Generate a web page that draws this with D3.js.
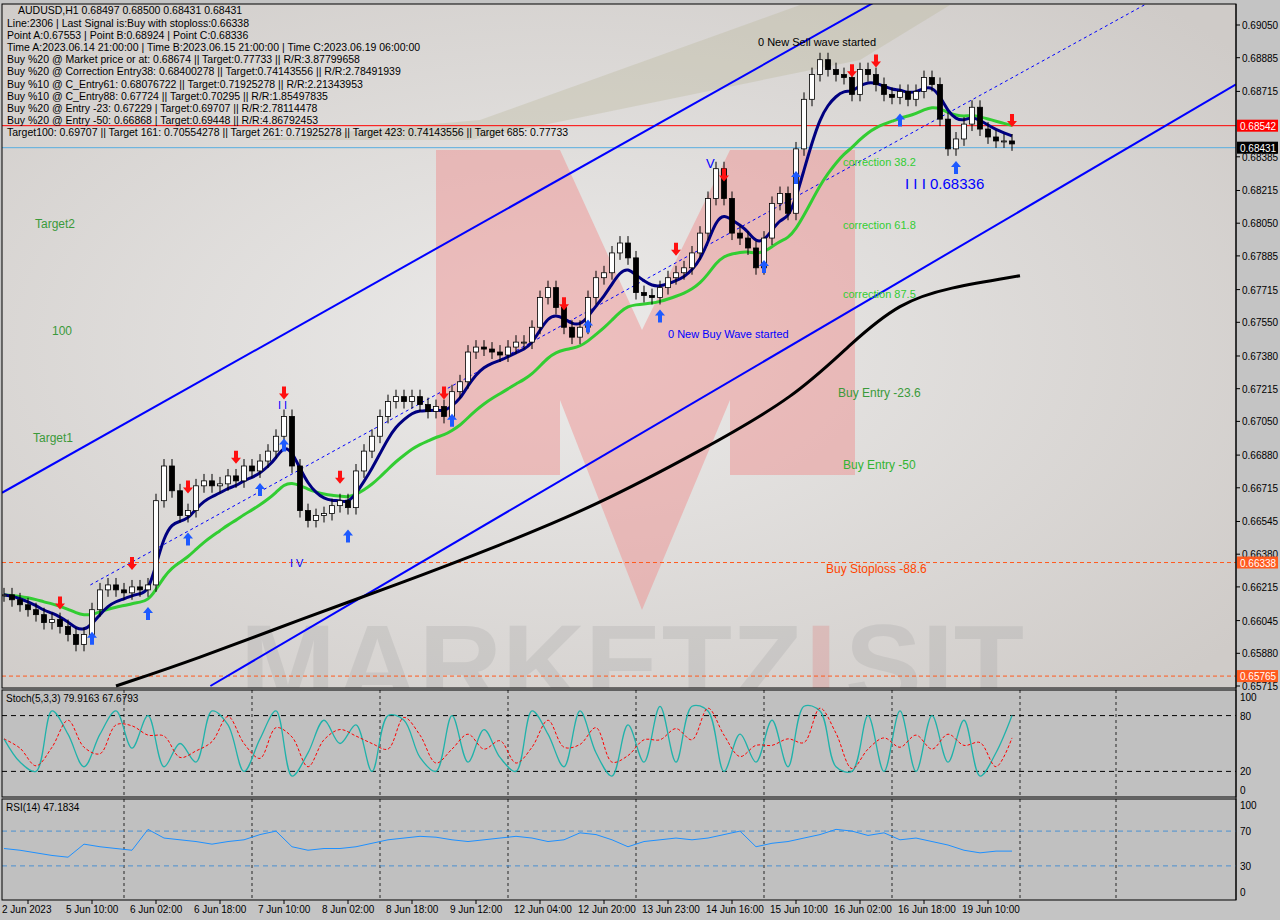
<!DOCTYPE html>
<html><head><meta charset="utf-8">
<script src="https://cdn.jsdelivr.net/npm/d3@7"></script>
<style>body{margin:0;background:#c4c4c4}svg{display:block}text{font-family:"Liberation Sans",Arial,sans-serif}</style>
</head><body><svg width="1280" height="920"></svg>
<script>
// closes, one per 8px column (roughly two H1 bars)
var closes = [.66175,.66150,.66125,.66100,.66075,.66035,.66050,.66015,.65975,.65925,.65975,.66100,.66200,.66225,.66200,.66185,.66215,.66200,.66225,.66650,.66825,.66700,.66575,.66600,.66725,.66750,.66725,.66735,.66775,.66750,.66825,.66800,.66850,.66900,.66975,.67075,.66825,.66600,.66550,.66575,.66585,.66625,.66650,.66615,.66800,.66900,.66975,.67075,.67150,.67175,.67150,.67175,.67135,.67100,.67125,.67075,.67200,.67250,.67400,.67425,.67415,.67400,.67385,.67425,.67450,.67450,.67525,.67675,.67725,.67625,.67525,.67475,.67525,.67675,.67775,.67800,.67900,.67950,.67875,.67700,.67685,.67675,.67725,.67775,.67800,.67825,.67900,.68000,.68175,.68325,.68175,.68000,.67975,.67925,.67825,.67975,.68150,.68200,.68100,.68425,.68675,.68800,.68875,.68825,.68800,.68785,.68700,.68825,.68800,.68750,.68700,.68685,.68715,.68675,.68715,.68785,.68750,.68575,.68425,.68475,.68550,.68635,.68525,.68485,.68465,.68465,.68450];
var ma200 = [[14,.65715],[24,.65850],[37,.66050],[49,.66225],[62,.66425],[74,.66625],[87,.66900],[99,.67175],[106,.67450],[112,.67650],[118,.67725],[127,.67785]];
var stoch = [55,30,20,85,60,25,60,85,45,80,25,50,30,85,70,20,55,85,15,40,75,50,70,20,80,75,35,20,80,30,65,35,20,85,60,25,85,40,15,70,30,90,30,90,85,20,60,30,75,25,90,85,25,20,80,20,85,20,80,30,75,15,40,80];
var rsi = [50,48,45,42,40,55,52,50,48,72,62,60,58,55,58,60,66,70,52,48,50,50,52,56,60,62,64,63,60,58,60,62,64,62,58,60,68,66,60,52,58,60,62,60,62,66,70,52,56,58,62,66,72,70,65,68,60,62,58,54,48,45,47,47];
var priceTicks = [.69050,.68885,.68715,.68385,.68215,.68050,.67885,.67715,.67550,.67380,.67215,.67050,.66880,.66715,.66545,.66380,.66215,.66045,.65880,.65715];
var timeLabels = [[3,"2 Jun 2023"],[11,"5 Jun 10:00"],[19,"6 Jun 02:00"],[27,"6 Jun 18:00"],[35,"7 Jun 10:00"],[43,"8 Jun 02:00"],[51,"8 Jun 18:00"],[59,"9 Jun 12:00"],[67,"12 Jun 04:00"],[75,"12 Jun 20:00"],[83,"13 Jun 23:00"],[91,"14 Jun 16:00"],[99,"15 Jun 10:00"],[107,"16 Jun 02:00"],[115,"16 Jun 18:00"],[123,"19 Jun 10:00"]];
var upperCh = [[-0.25,.66690],[114.75,.69300]], lowerCh = [[25.8,.65715],[154,.68750]], midCh = [[10.8,.66225],[147,.69250]];
var upArrows = [11,18,23,32,35,43,56,73,82,95,99,112,119];
var downArrows = [7,16,23,29,35,42,55,70,84,90,106,109,126];
var infoLines = ["Line:2306 | Last Signal is:Buy with stoploss:0.66338","Point A:0.67553 | Point B:0.68924 | Point C:0.68336","Time A:2023.06.14 21:00:00 | Time B:2023.06.15 21:00:00 | Time C:2023.06.19 06:00:00","Buy %20 @ Market price or at: 0.68674 || Target:0.77733 || R/R:3.87799658","Buy %20 @ Correction Entry38: 0.68400278 || Target:0.74143556 || R/R:2.78491939","Buy %10 @ C_Entry61: 0.68076722 || Target:0.71925278 || R/R:2.21343953","Buy %10 @ C_Entry88: 0.67724 || Target:0.70295 || R/R:1.85497835","Buy %20 @ Entry -23: 0.67229 | Target:0.69707 || R/R:2.78114478","Buy %20 @ Entry -50: 0.66868 | Target:0.69448 || R/R:4.86792453","Target100: 0.69707 || Target 161: 0.70554278 || Target 261: 0.71925278 || Target 423: 0.74143556 || Target 685: 0.77733"];

var svg = d3.select("svg");
var L = 2, R = 1236;
var x = d3.scaleLinear().domain([0, 1]).range([4, 12]);
var y = d3.scaleLinear().domain([0.65715, 0.69050]).range([686, 25]);
var yS = d3.scaleLinear().domain([0, 100]).range([790, 697]);
var yR = d3.scaleLinear().domain([0, 100]).range([892, 805]);

var grad = svg.append("defs").append("radialGradient").attr("id", "bg").attr("cx", "0.45").attr("cy", "0.5").attr("r", "0.7");
grad.append("stop").attr("offset", "0").attr("stop-color", "#ecebea");
grad.append("stop").attr("offset", "1").attr("stop-color", "#cfcbc8");
svg.append("clipPath").attr("id", "mc").append("rect").attr("x", L).attr("y", 4).attr("width", R - L).attr("height", 684);
svg.append("rect").attr("x", L).attr("y", 4).attr("width", R - L).attr("height", 684).attr("fill", "url(#bg)");
svg.append("rect").attr("x", L).attr("y", 690).attr("width", R - L).attr("height", 107).attr("fill", "#c0c0c0");
svg.append("rect").attr("x", L).attr("y", 799).attr("width", R - L).attr("height", 101).attr("fill", "#c0c0c0");

var main = svg.append("g").attr("clip-path", "url(#mc)");
// watermark
main.append("path").attr("d", "M250,140 L470,140 L860,60 L950,5 L800,5 L480,120 Z").attr("fill", "#b9b89a").attr("opacity", 0.35);
main.append("path").attr("d", "M436,150 L560,150 L560,475 L436,475 Z M730,150 L855,150 L855,475 L730,475 Z M560,150 L642,330 L730,150 L730,400 L642,610 L560,400 Z")
  .attr("fill", "#f08a8a").attr("opacity", 0.45);
main.append("text").attr("x", 240).attr("y", 705).attr("font-size", 115).attr("font-weight", "bold").attr("fill", "#a0a0a0").attr("opacity", 0.25).text("MARKETZ");
main.append("text").attr("x", 805).attr("y", 705).attr("font-size", 115).attr("font-weight", "bold").attr("fill", "#e07070").attr("opacity", 0.25).text("I");
main.append("text").attr("x", 845).attr("y", 705).attr("font-size", 115).attr("font-weight", "bold").attr("fill", "#a0a0a0").attr("opacity", 0.25).text("SIT");

// horizontal levels
function hline(p, col, dash) {
  main.append("line").attr("x1", L).attr("x2", R).attr("y1", y(p)).attr("y2", y(p)).attr("stroke", col).attr("stroke-dasharray", dash || null);
}
hline(0.68542, "#ff0000"); hline(0.68431, "#5aaee0"); hline(0.66338, "#ff5a1e", "4,3"); hline(0.65765, "#ff5a1e", "4,3");

// channel
var ln = d3.line().x(d => x(d[0])).y(d => y(d[1]));
main.append("path").attr("d", ln(upperCh)).attr("stroke", "#0000ff").attr("stroke-width", 2).attr("fill", "none");
main.append("path").attr("d", ln(lowerCh)).attr("stroke", "#0000ff").attr("stroke-width", 2).attr("fill", "none");
main.append("path").attr("d", ln(midCh)).attr("stroke", "#0000ff").attr("stroke-dasharray", "3,3").attr("fill", "none");

// moving averages
function ema(a, n) { var k = 2 / (n + 1), o = [a[0]]; for (var i = 1; i < a.length; i++) o.push(a[i] * k + o[i - 1] * (1 - k)); return o; }
var fast = ema(closes, 6), slow = ema(closes, 18);
var lnA = d3.line().x((d, i) => x(i)).y(d => y(d)).curve(d3.curveBasis);
main.append("path").attr("d", ln.curve(d3.curveBasis)(ma200)).attr("stroke", "#000").attr("stroke-width", 3).attr("fill", "none");
main.append("path").attr("d", lnA(slow)).attr("stroke", "#32cd32").attr("stroke-width", 3).attr("fill", "none");
main.append("path").attr("d", lnA(fast)).attr("stroke", "#000080").attr("stroke-width", 3).attr("fill", "none");

// candles
closes.forEach(function (c, i) {
  var o = i ? closes[i - 1] : c;
  var hi = Math.max(o, c) + 0.00035, lo = Math.min(o, c) - 0.00035;
  main.append("line").attr("x1", x(i)).attr("x2", x(i)).attr("y1", y(hi)).attr("y2", y(lo)).attr("stroke", "#000");
  main.append("rect").attr("x", x(i) - 2.5).attr("width", 5).attr("y", y(Math.max(o, c))).attr("height", Math.max(1, Math.abs(y(o) - y(c))))
    .attr("fill", c >= o ? "#fff" : "#000").attr("stroke", "#000").attr("stroke-width", 0.8);
});

// signals
upArrows.forEach(function (i) {
  var yy = y(closes[i]) + 22;
  main.append("path").attr("d", `M${x(i)},${yy} l-5,6 h3 v7 h4 v-7 h3 z`).attr("fill", "#1e5aff");
});
downArrows.forEach(function (i) {
  var yy = y(closes[i]) - 30;
  main.append("path").attr("d", `M${x(i)},${yy + 13} l-5,-6 h3 v-7 h4 v7 h3 z`).attr("fill", "#ff1010");
});

// labels
function lab(t, px, py, col, fs) { svg.append("text").attr("x", px).attr("y", py).attr("fill", col).attr("font-size", fs || 11).text(t); }
lab("correction 38.2", 843, 166, "#32cd32"); lab("correction 61.8", 843, 229, "#32cd32"); lab("correction 87.5", 843, 298, "#32cd32");
lab("Buy Entry -23.6", 838, 397, "#3a9a3a", 12); lab("Buy Entry -50", 843, 469, "#32b432", 12); lab("Buy Stoploss -88.6", 826, 573, "#ff4500", 12);
lab("Target2", 35, 228, "#3a9a3a", 12); lab("100", 52, 335, "#3a9a3a", 12); lab("Target1", 33, 442, "#3a9a3a", 12);
lab("0 New Sell wave started", 758, 46, "#000"); lab("0 New Buy Wave started", 668, 338, "#0000ff");
lab("I I I 0.68336", 905, 189, "#0000ff", 15); lab("I V", 290, 567, "#0000ff"); lab("I I", 278, 409, "#0000ff"); lab("V", 706, 168, "#0000ff", 13);

// info block
lab("AUDUSD,H1  0.68497 0.68500 0.68431 0.68431", 18, 14, "#000", 10.5);
infoLines.forEach(function (t, i) { lab(t, 7, 27 + i * 12.1, "#000", 10.5); });

// price axis
svg.append("line").attr("x1", R).attr("x2", R).attr("y1", 4).attr("y2", 900).attr("stroke", "#000");
priceTicks.forEach(function (p) {
  svg.append("line").attr("x1", R).attr("x2", R + 4).attr("y1", y(p)).attr("y2", y(p)).attr("stroke", "#000");
  lab(p.toFixed(5), 1242, y(p) + 4, "#000", 10);
});
function tag(p, col, tc) {
  svg.append("rect").attr("x", R + 1).attr("y", y(p) - 6).attr("width", 41).attr("height", 12).attr("fill", col);
  lab(p.toFixed(5), 1240, y(p) + 4, tc, 10);
}
tag(0.68542, "#ff0000", "#fff"); tag(0.68431, "#000", "#fff"); tag(0.66338, "#ff5a1e", "#fff"); tag(0.65765, "#ff5a1e", "#fff");

// sub panels
var vgrid = [124, 252, 380, 508, 636, 764, 892, 1020, 1116];
function panel(y0, y1, sc, lv, col) {
  vgrid.forEach(function (gx) { svg.append("line").attr("x1", gx).attr("x2", gx).attr("y1", y0).attr("y2", y1).attr("stroke", "#000").attr("stroke-dasharray", "3,3").attr("opacity", 0.8); });
  lv.forEach(function (v) {
    svg.append("line").attr("x1", L).attr("x2", R).attr("y1", sc(v)).attr("y2", sc(v)).attr("stroke", col).attr("stroke-dasharray", "5,4");
  });
  [0, 100].concat(lv).forEach(function (v) { lab(v, 1240, sc(v) + 4, "#000", 10); });
}
panel(690, 797, yS, [80, 20], "#000");
panel(799, 900, yR, [70, 30], "#4a90d0");
var xs = d3.scaleLinear().domain([0, 1]).range([4, 20]);
var lnS = d3.line().x((d, i) => xs(i)).y(d => yS(d)).curve(d3.curveCatmullRom);
var sig = stoch.map((v, i) => i ? (stoch[i - 1] * 0.6 + v * 0.4) : v);
svg.append("path").attr("d", lnS(stoch)).attr("stroke", "#20b2aa").attr("fill", "none").attr("stroke-width", 1.3);
svg.append("path").attr("d", lnS(sig)).attr("stroke", "#ff0000").attr("fill", "none").attr("stroke-dasharray", "3,2");
svg.append("path").attr("d", d3.line().x((d, i) => xs(i)).y(d => yR(d))(rsi)).attr("stroke", "#1e90ff").attr("fill", "none");
lab("Stoch(5,3,3) 79.9163 67.6793", 6, 702, "#000", 10);
lab("RSI(14) 47.1834", 6, 811, "#000", 10);

// borders
[[4, 688], [690, 797], [799, 900]].forEach(function (b) {
  svg.append("rect").attr("x", L).attr("y", b[0]).attr("width", R - L).attr("height", b[1] - b[0]).attr("fill", "none").attr("stroke", "#000");
});

// time axis
timeLabels.forEach(function (t) {
  svg.append("line").attr("x1", x(t[0])).attr("x2", x(t[0])).attr("y1", 900).attr("y2", 904).attr("stroke", "#000");
  lab(t[1], x(t[0]) - 26, 913, "#000", 10);
});
</script></body></html>
